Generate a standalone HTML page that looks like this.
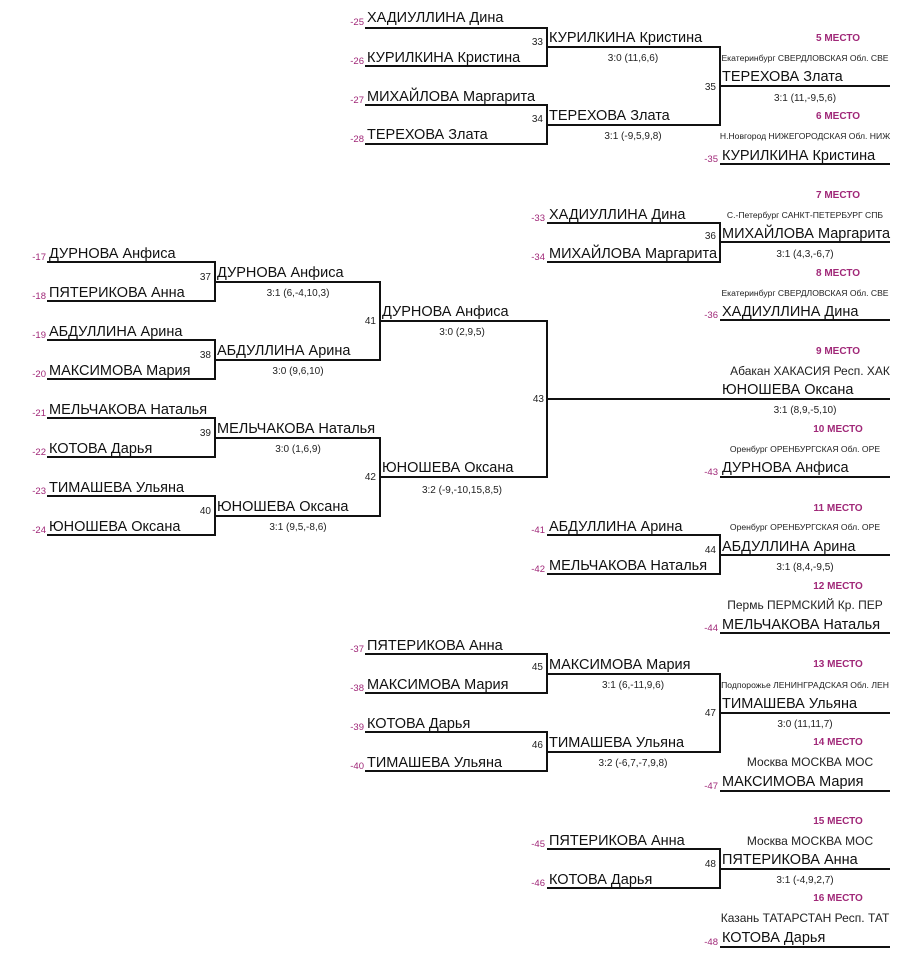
<!DOCTYPE html>
<html><head><meta charset="utf-8"><style>
html,body{margin:0;padding:0;background:#fff;width:900px;height:960px;overflow:hidden}
svg{display:block}
.n{font:14.5px "Liberation Sans",sans-serif;fill:#111}
.s{font:10px "Liberation Sans",sans-serif;fill:#222}
.m{font:9.5px "Liberation Sans",sans-serif;fill:#a02878}
.p{font:bold 10px "Liberation Sans",sans-serif;fill:#a02878}
.c{font:8.6px "Liberation Sans",sans-serif;fill:#222}
.k{font:12px "Liberation Sans",sans-serif;fill:#222}
line,polyline{stroke:#111;stroke-width:2;fill:none}
</style></head><body>
<svg width="900" height="960" xmlns="http://www.w3.org/2000/svg">
<!-- block 33-35 -->
<polyline points="365,28 547,28 547,66 365,66"/>
<polyline points="365,105 547,105 547,144 365,144"/>
<polyline points="547,47 720,47 720,125 547,125"/>
<line x1="720" y1="86" x2="890" y2="86"/>
<line x1="720" y1="164" x2="890" y2="164"/>
<text class="m" x="364" y="25" text-anchor="end">-25</text><text class="n" x="367" y="22">ХАДИУЛЛИНА Дина</text>
<text class="m" x="364" y="64" text-anchor="end">-26</text><text class="n" x="367" y="62">КУРИЛКИНА Кристина</text>
<text class="m" x="364" y="103" text-anchor="end">-27</text><text class="n" x="367" y="101">МИХАЙЛОВА Маргарита</text>
<text class="m" x="364" y="142" text-anchor="end">-28</text><text class="n" x="367" y="139">ТЕРЕХОВА Злата</text>
<text class="s" x="543" y="45" text-anchor="end">33</text>
<text class="s" x="543" y="122" text-anchor="end">34</text>
<text class="s" x="716" y="90" text-anchor="end">35</text>
<text class="n" x="549" y="42">КУРИЛКИНА Кристина</text>
<text class="s" x="633" y="61" text-anchor="middle">3:0 (11,6,6)</text>
<text class="n" x="549" y="120">ТЕРЕХОВА Злата</text>
<text class="s" x="633" y="139" text-anchor="middle">3:1 (-9,5,9,8)</text>
<text class="p" x="838" y="41" text-anchor="middle">5 МЕСТО</text>
<text class="c" x="805" y="61" text-anchor="middle">Екатеринбург СВЕРДЛОВСКАЯ Обл. СВЕ</text>
<text class="n" x="722" y="81">ТЕРЕХОВА Злата</text>
<text class="s" x="805" y="101" text-anchor="middle">3:1 (11,-9,5,6)</text>
<text class="p" x="838" y="119" text-anchor="middle">6 МЕСТО</text>
<text class="c" x="805" y="139" text-anchor="middle">Н.Новгород НИЖЕГОРОДСКАЯ Обл. НИЖ</text>
<text class="m" x="718" y="162" text-anchor="end">-35</text><text class="n" x="722" y="160">КУРИЛКИНА Кристина</text>
<!-- block 36 -->
<polyline points="547,223 720,223 720,262 547,262"/>
<line x1="720" y1="242" x2="890" y2="242"/>
<line x1="720" y1="320" x2="890" y2="320"/>
<text class="m" x="545" y="221" text-anchor="end">-33</text><text class="n" x="549" y="219">ХАДИУЛЛИНА Дина</text>
<text class="m" x="545" y="260" text-anchor="end">-34</text><text class="n" x="549" y="258">МИХАЙЛОВА Маргарита</text>
<text class="s" x="716" y="239" text-anchor="end">36</text>
<text class="p" x="838" y="198" text-anchor="middle">7 МЕСТО</text>
<text class="c" x="805" y="218" text-anchor="middle">С.-Петербург САНКТ-ПЕТЕРБУРГ СПБ</text>
<text class="n" x="722" y="238">МИХАЙЛОВА Маргарита</text>
<text class="s" x="805" y="257" text-anchor="middle">3:1 (4,3,-6,7)</text>
<text class="p" x="838" y="276" text-anchor="middle">8 МЕСТО</text>
<text class="c" x="805" y="296" text-anchor="middle">Екатеринбург СВЕРДЛОВСКАЯ Обл. СВЕ</text>
<text class="m" x="718" y="318" text-anchor="end">-36</text><text class="n" x="722" y="316">ХАДИУЛЛИНА Дина</text>
<!-- left block -->
<polyline points="47,262 215,262 215,301 47,301"/>
<polyline points="47,340 215,340 215,379 47,379"/>
<polyline points="47,418 215,418 215,457 47,457"/>
<polyline points="47,496 215,496 215,535 47,535"/>
<polyline points="215,282 380,282 380,360 215,360"/>
<polyline points="215,438 380,438 380,516 215,516"/>
<polyline points="380,321 547,321 547,477 380,477"/>
<line x1="547" y1="399" x2="890" y2="399"/>
<text class="m" x="46" y="260" text-anchor="end">-17</text><text class="n" x="49" y="258">ДУРНОВА Анфиса</text>
<text class="m" x="46" y="299" text-anchor="end">-18</text><text class="n" x="49" y="297">ПЯТЕРИКОВА Анна</text>
<text class="m" x="46" y="338" text-anchor="end">-19</text><text class="n" x="49" y="336">АБДУЛЛИНА Арина</text>
<text class="m" x="46" y="377" text-anchor="end">-20</text><text class="n" x="49" y="375">МАКСИМОВА Мария</text>
<text class="m" x="46" y="416" text-anchor="end">-21</text><text class="n" x="49" y="414">МЕЛЬЧАКОВА Наталья</text>
<text class="m" x="46" y="455" text-anchor="end">-22</text><text class="n" x="49" y="453">КОТОВА Дарья</text>
<text class="m" x="46" y="494" text-anchor="end">-23</text><text class="n" x="49" y="492">ТИМАШЕВА Ульяна</text>
<text class="m" x="46" y="533" text-anchor="end">-24</text><text class="n" x="49" y="531">ЮНОШЕВА Оксана</text>
<text class="s" x="211" y="280" text-anchor="end">37</text>
<text class="s" x="211" y="358" text-anchor="end">38</text>
<text class="s" x="211" y="436" text-anchor="end">39</text>
<text class="s" x="211" y="514" text-anchor="end">40</text>
<text class="n" x="217" y="277">ДУРНОВА Анфиса</text><text class="s" x="298" y="296" text-anchor="middle">3:1 (6,-4,10,3)</text>
<text class="n" x="217" y="355">АБДУЛЛИНА Арина</text><text class="s" x="298" y="374" text-anchor="middle">3:0 (9,6,10)</text>
<text class="n" x="217" y="433">МЕЛЬЧАКОВА Наталья</text><text class="s" x="298" y="452" text-anchor="middle">3:0 (1,6,9)</text>
<text class="n" x="217" y="511">ЮНОШЕВА Оксана</text><text class="s" x="298" y="530" text-anchor="middle">3:1 (9,5,-8,6)</text>
<text class="s" x="376" y="324" text-anchor="end">41</text>
<text class="s" x="376" y="480" text-anchor="end">42</text>
<text class="n" x="382" y="316">ДУРНОВА Анфиса</text><text class="s" x="462" y="335" text-anchor="middle">3:0 (2,9,5)</text>
<text class="n" x="382" y="472">ЮНОШЕВА Оксана</text><text class="s" x="462" y="493" text-anchor="middle">3:2 (-9,-10,15,8,5)</text>
<text class="s" x="544" y="402" text-anchor="end">43</text>
<text class="p" x="838" y="354" text-anchor="middle">9 МЕСТО</text>
<text class="k" x="810" y="375" text-anchor="middle">Абакан ХАКАСИЯ Респ. ХАК</text>
<text class="n" x="722" y="394">ЮНОШЕВА Оксана</text>
<text class="s" x="805" y="413" text-anchor="middle">3:1 (8,9,-5,10)</text>
<text class="p" x="838" y="432" text-anchor="middle">10 МЕСТО</text>
<text class="c" x="805" y="452" text-anchor="middle">Оренбург ОРЕНБУРГСКАЯ Обл. ОРЕ</text>
<line x1="720" y1="477" x2="890" y2="477"/>
<text class="m" x="718" y="475" text-anchor="end">-43</text><text class="n" x="722" y="472">ДУРНОВА Анфиса</text>
<!-- block 44 -->
<polyline points="547,535 720,535 720,574 547,574"/>
<line x1="720" y1="555" x2="890" y2="555"/>
<line x1="720" y1="633" x2="890" y2="633"/>
<text class="m" x="545" y="533" text-anchor="end">-41</text><text class="n" x="549" y="531">АБДУЛЛИНА Арина</text>
<text class="m" x="545" y="572" text-anchor="end">-42</text><text class="n" x="549" y="570">МЕЛЬЧАКОВА Наталья</text>
<text class="s" x="716" y="553" text-anchor="end">44</text>
<text class="p" x="838" y="511" text-anchor="middle">11 МЕСТО</text>
<text class="c" x="805" y="530" text-anchor="middle">Оренбург ОРЕНБУРГСКАЯ Обл. ОРЕ</text>
<text class="n" x="722" y="551">АБДУЛЛИНА Арина</text>
<text class="s" x="805" y="570" text-anchor="middle">3:1 (8,4,-9,5)</text>
<text class="p" x="838" y="589" text-anchor="middle">12 МЕСТО</text>
<text class="k" x="805" y="609" text-anchor="middle">Пермь ПЕРМСКИЙ Кр. ПЕР</text>
<text class="m" x="718" y="631" text-anchor="end">-44</text><text class="n" x="722" y="629">МЕЛЬЧАКОВА Наталья</text>
<!-- block 45-47 -->
<polyline points="365,654 547,654 547,693 365,693"/>
<polyline points="365,732 547,732 547,771 365,771"/>
<polyline points="547,674 720,674 720,752 547,752"/>
<line x1="720" y1="713" x2="890" y2="713"/>
<line x1="720" y1="791" x2="890" y2="791"/>
<text class="m" x="364" y="652" text-anchor="end">-37</text><text class="n" x="367" y="650">ПЯТЕРИКОВА Анна</text>
<text class="m" x="364" y="691" text-anchor="end">-38</text><text class="n" x="367" y="689">МАКСИМОВА Мария</text>
<text class="m" x="364" y="730" text-anchor="end">-39</text><text class="n" x="367" y="728">КОТОВА Дарья</text>
<text class="m" x="364" y="769" text-anchor="end">-40</text><text class="n" x="367" y="767">ТИМАШЕВА Ульяна</text>
<text class="s" x="543" y="670" text-anchor="end">45</text>
<text class="s" x="543" y="748" text-anchor="end">46</text>
<text class="s" x="716" y="716" text-anchor="end">47</text>
<text class="n" x="549" y="669">МАКСИМОВА Мария</text><text class="s" x="633" y="688" text-anchor="middle">3:1 (6,-11,9,6)</text>
<text class="n" x="549" y="747">ТИМАШЕВА Ульяна</text><text class="s" x="633" y="766" text-anchor="middle">3:2 (-6,7,-7,9,8)</text>
<text class="p" x="838" y="667" text-anchor="middle">13 МЕСТО</text>
<text class="c" x="805" y="688" text-anchor="middle">Подпорожье ЛЕНИНГРАДСКАЯ Обл. ЛЕН</text>
<text class="n" x="722" y="708">ТИМАШЕВА Ульяна</text>
<text class="s" x="805" y="727" text-anchor="middle">3:0 (11,11,7)</text>
<text class="p" x="838" y="745" text-anchor="middle">14 МЕСТО</text>
<text class="k" x="810" y="766" text-anchor="middle">Москва МОСКВА МОС</text>
<text class="m" x="718" y="789" text-anchor="end">-47</text><text class="n" x="722" y="786">МАКСИМОВА Мария</text>
<!-- block 48 -->
<polyline points="547,849 720,849 720,888 547,888"/>
<line x1="720" y1="869" x2="890" y2="869"/>
<line x1="720" y1="947" x2="890" y2="947"/>
<text class="m" x="545" y="847" text-anchor="end">-45</text><text class="n" x="549" y="845">ПЯТЕРИКОВА Анна</text>
<text class="m" x="545" y="886" text-anchor="end">-46</text><text class="n" x="549" y="884">КОТОВА Дарья</text>
<text class="s" x="716" y="867" text-anchor="end">48</text>
<text class="p" x="838" y="824" text-anchor="middle">15 МЕСТО</text>
<text class="k" x="810" y="845" text-anchor="middle">Москва МОСКВА МОС</text>
<text class="n" x="722" y="864">ПЯТЕРИКОВА Анна</text>
<text class="s" x="805" y="883" text-anchor="middle">3:1 (-4,9,2,7)</text>
<text class="p" x="838" y="901" text-anchor="middle">16 МЕСТО</text>
<text class="k" x="805" y="922" text-anchor="middle">Казань ТАТАРСТАН Респ. ТАТ</text>
<text class="m" x="718" y="945" text-anchor="end">-48</text><text class="n" x="722" y="942">КОТОВА Дарья</text>
</svg>
</body></html>
